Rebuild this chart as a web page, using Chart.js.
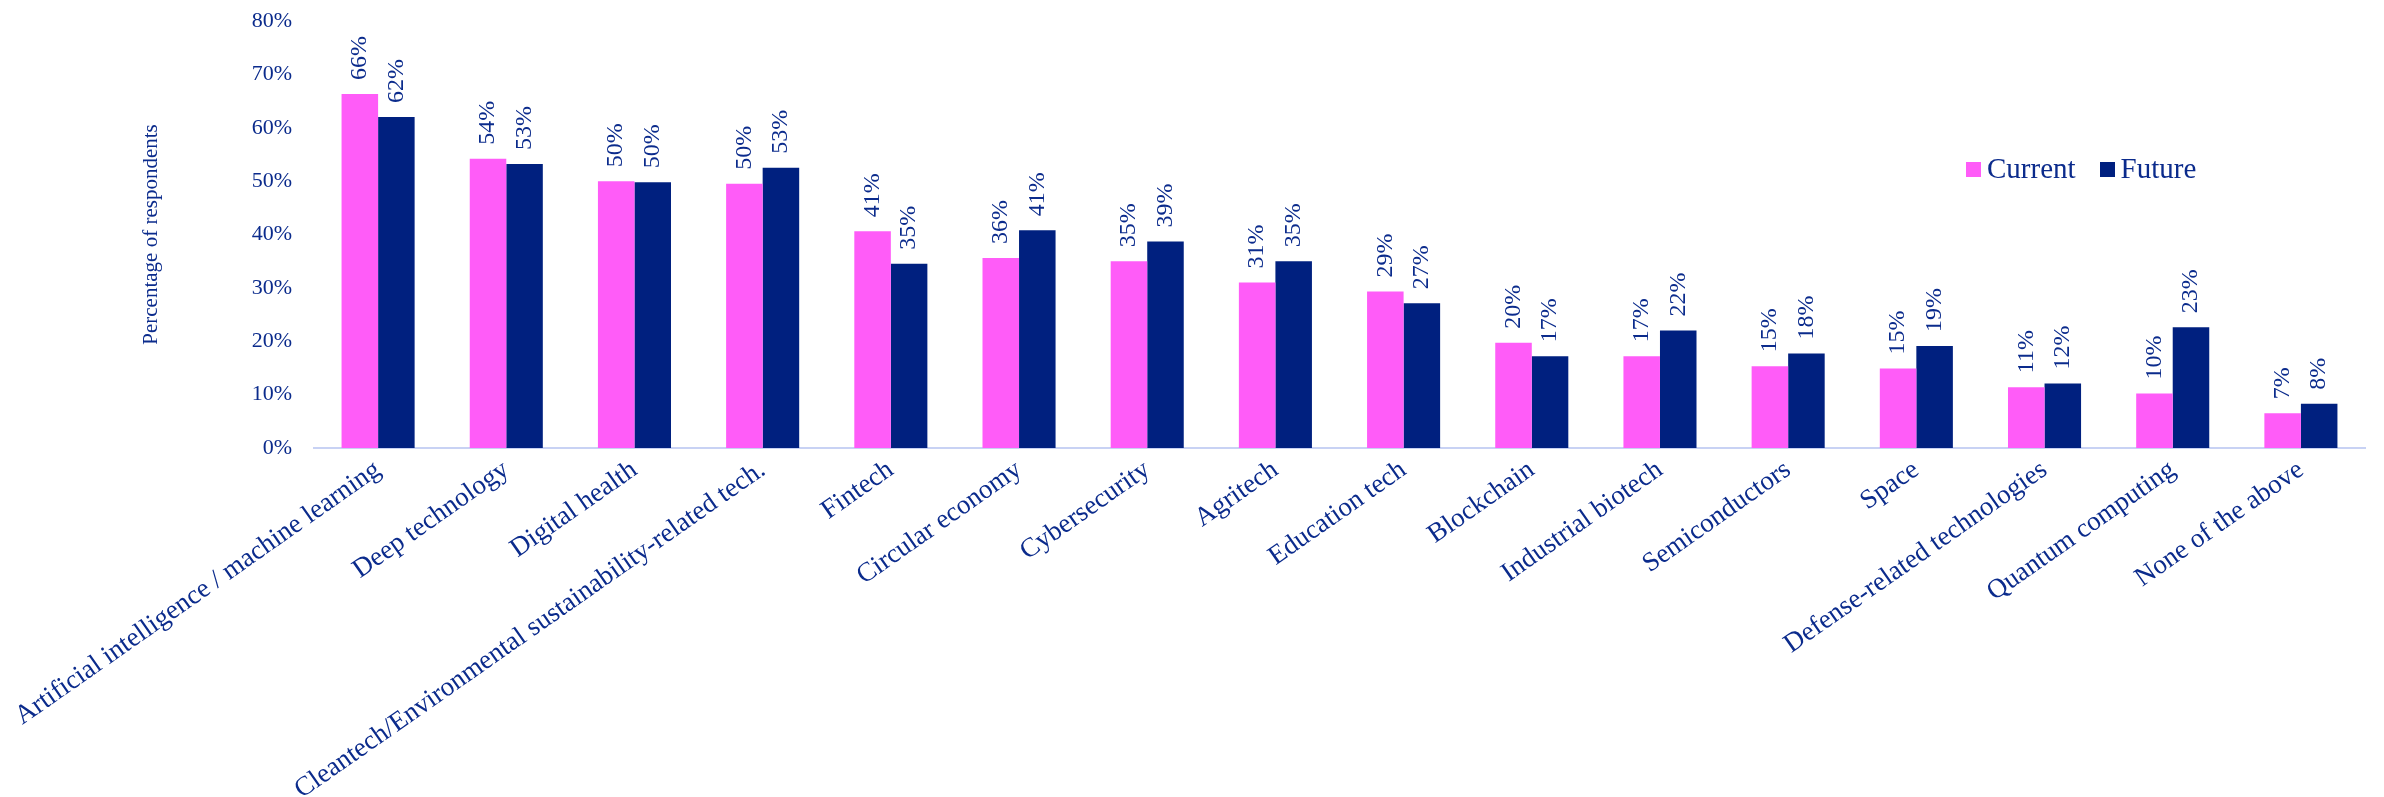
<!DOCTYPE html>
<html>
<head>
<meta charset="utf-8">
<script src="https://cdn.jsdelivr.net/npm/chart.js@4.4.1/dist/chart.umd.min.js"></script>
<style>
  html, body { margin: 0; padding: 0; background: #fff; }
  #wrap { position: relative; width: 2384px; height: 797px; }
  #legend {
    position: absolute; left: 1966px; top: 152px;
    font-family: 'Liberation Serif', 'Times New Roman', serif;
    font-size: 29px; color: #0b2b8c; white-space: nowrap;
  }
  #legend span.sw { display: inline-block; width: 15px; height: 15px; margin-right: 6px; vertical-align: 1px; }
  #legend span.item { margin-right: 24px; }
</style>
</head>
<body>
<div id="wrap">
  <canvas id="chart" width="2384" height="797"></canvas>
  <div id="legend">
    <span class="item"><span class="sw" style="background:#ff5cf8"></span>Current</span><span class="item"><span class="sw" style="background:#00207f"></span>Future</span>
  </div>
</div>
<script>
// ── Data ──────────────────────────────────────────────────────
const CATEGORIES = [
  'Artificial intelligence / machine learning',
  'Deep technology',
  'Digital health',
  'Cleantech/Environmental sustainability-related tech.',
  'Fintech',
  'Circular economy',
  'Cybersecurity',
  'Agritech',
  'Education tech',
  'Blockchain',
  'Industrial biotech',
  'Semiconductors',
  'Space',
  'Defense-related technologies',
  'Quantum computing',
  'None of the above'
];
const CURRENT = [66.3, 54.2, 50.0, 49.5, 40.6, 35.6, 35.0, 31.0, 29.3, 19.7, 17.2, 15.3, 14.9, 11.4, 10.2, 6.5];
const FUTURE  = [62.0, 53.2, 49.8, 52.5, 34.5, 40.8, 38.7, 35.0, 27.1, 17.2, 22.0, 17.7, 19.1, 12.1, 22.6, 8.3];
const Y_TICKS = [0, 10, 20, 30, 40, 50, 60, 70, 80];

// ── Style ─────────────────────────────────────────────────────
const FONT      = "'Liberation Serif', 'Times New Roman', serif";
const TEXT      = '#0b2b8c';
const PINK      = '#ff5cf8';
const NAVY      = '#00207f';

// ── Value labels (rotated, above each bar) ────────────────────
const valueLabels = {
  id: 'valueLabels',
  afterDatasetsDraw(chart) {
    const ctx = chart.ctx;
    ctx.save();
    ctx.font = '24px ' + FONT;
    ctx.fillStyle = TEXT;
    ctx.textAlign = 'left';
    ctx.textBaseline = 'middle';
    chart.data.datasets.forEach((ds, i) => {
      chart.getDatasetMeta(i).data.forEach((bar, j) => {
        ctx.save();
        ctx.translate(bar.x, bar.y - 14);
        ctx.rotate(-Math.PI / 2);
        ctx.fillText(Math.round(ds.data[j]) + '%', 0, 0);
        ctx.restore();
      });
    });
    ctx.restore();
  }
};

// ── Chart ─────────────────────────────────────────────────────
new Chart(document.getElementById('chart'), {
  type: 'bar',
  data: {
    labels: CATEGORIES,
    datasets: [
      { label: 'Current', data: CURRENT, backgroundColor: PINK },
      { label: 'Future',  data: FUTURE,  backgroundColor: NAVY }
    ]
  },
  options: {
    responsive: false,
    animation: false,
    layout: { padding: { left: 135, top: 21, right: 19, bottom: 0 } },
    datasets: { bar: { categoryPercentage: 0.57, barPercentage: 1.0 } },
    plugins: { legend: { display: false }, tooltip: { enabled: false } },
    scales: {
      x: {
        grid: { display: false, drawTicks: false },
        border: { display: true, color: '#c8d2f4', width: 2 },
        ticks: {
          autoSkip: false, minRotation: 35, maxRotation: 35, padding: 6,
          color: TEXT, font: { family: FONT, size: 27 }
        },
        afterFit(scale) { scale.height = 797 - 448; }
      },
      y: {
        min: 0, max: 80,
        afterBuildTicks(scale) { scale.ticks = Y_TICKS.map(v => ({ value: v })); },
        grid: { display: false, drawTicks: false },
        border: { display: false },
        ticks: {
          padding: 22, color: TEXT, font: { family: FONT, size: 22 },
          callback: v => v + '%'
        },
        title: {
          display: true, text: 'Percentage of respondents',
          color: TEXT, font: { family: FONT, size: 21 }
        },
        afterFit(scale) {
          scale.width = 314 - 135;
          // keep the plot top where the reference has it
          scale.paddingTop = 12;
          scale.paddingBottom = 12;
        }
      }
    }
  },
  plugins: [valueLabels]
});
</script>
</body>
</html>
